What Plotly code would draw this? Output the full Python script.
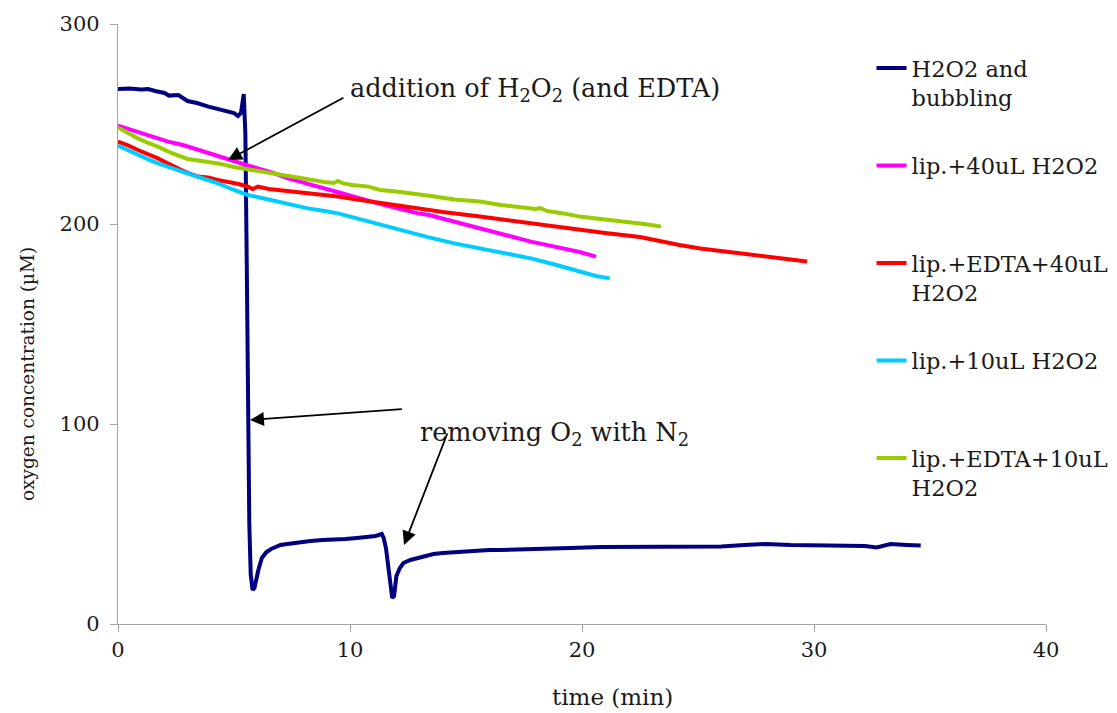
import plotly.graph_objects as go

FONT = "DejaVu Serif"

# ---- data ----
navy_x = [0, 0.5, 1.0, 1.3, 1.6, 2.0, 2.2, 2.6, 3.0, 3.4, 3.9, 4.3, 4.74, 5.0, 5.17, 5.3, 5.42,
          5.49, 5.55, 5.6, 5.66, 5.72, 5.8, 5.88, 5.95, 6.05, 6.2, 6.4, 6.6, 7.0, 7.3, 7.8, 8.3,
          8.8, 9.3, 9.8, 10.3, 10.7, 11.1, 11.37, 11.45, 11.55, 11.65, 11.75, 11.82, 11.9, 12.0,
          12.15, 12.3, 12.6, 12.9, 13.3, 13.6, 14.0, 14.5, 15.0, 15.5, 16.0, 16.5, 17.5, 18.5,
          19.5, 20.8, 22.0, 23.0, 24.0, 25.1, 26.0, 27.0, 27.9, 29.0, 30.0, 30.8, 31.5, 32.2,
          32.7, 33.3, 34.0, 34.6]
navy_y = [267.5, 267.8, 267.3, 267.5, 266.5, 265.5, 264.2, 264.5, 261.5, 260.5, 258.7, 257.5,
          256.5, 255.5, 254.0, 255.5, 265.0,
          245, 180, 110, 50, 25, 17, 18, 22, 27, 33, 36, 37.5, 39.5, 40, 41, 41.5,
          42, 42, 42.5, 43, 43.5, 44, 45, 43, 38, 30, 20, 13, 14, 24,
          28, 30.5, 32, 33, 34, 35, 35.5, 36, 36.2, 36.5, 37, 37, 37.5, 37.5,
          38, 38.5, 38.5, 38.5, 39, 39, 38.8, 39.5, 40, 39.5, 39.5, 39.2, 39.5, 39,
          38.3, 40, 39.5, 39.2]

mag_x = [0, 0.86, 1.5, 2.16, 2.8, 3.45, 4.1, 4.74, 5.4, 6.03, 6.7, 7.33, 8.0, 8.62, 9.3, 9.91,
         10.5, 11.2, 12.0, 12.93, 13.4, 14.5, 15.6, 16.7, 17.8, 18.9, 19.9, 20.6]
mag_y = [249.2, 246.2, 244, 241.2, 239.5, 237, 234.5, 232.3, 230, 227.8, 225.5, 222.8, 220.8,
         218.7, 216.5, 214.5, 212.5, 210.3, 208, 205.3, 204.5, 201, 197.8, 194.5, 191.2, 188.5,
         186, 183.7]

red_x = [0, 0.4, 0.86, 1.3, 1.72, 2.2, 2.59, 3.0, 3.45, 3.88, 4.3, 4.74, 5.2, 5.6, 5.8, 6.03,
         6.5, 6.9, 7.5, 8.19, 8.8, 9.48, 10.3, 11.2, 12.0, 12.93, 14.0, 15.6, 17.0, 18.5, 19.9,
         21.0, 22.5, 23.5, 24.2, 25.1, 26.0, 27.2, 28.0, 29.0, 29.7]
red_y = [241.2, 239.5, 237, 235, 232.8, 230, 227.8, 225.5, 223.7, 223.2, 222, 221.2, 220,
         218.7, 217.5, 218.7, 217.5, 217, 216.3, 215.3, 214.5, 213.7, 212.3, 210.7, 209.5,
         207.8, 206, 203.7, 201.5, 199.5, 197.3, 195.5, 193.5, 191, 189.5, 187.8, 186.5, 184.5,
         183.5, 182, 181.2]

cyan_x = [0, 0.4, 0.86, 1.3, 1.72, 2.3, 3.0, 3.6, 4.31, 5.0, 5.6, 6.2, 6.9, 7.5, 8.19, 8.9,
          9.48, 10.3, 11.2, 12.0, 12.93, 13.4, 14.5, 15.6, 16.7, 17.8, 18.9, 19.9, 20.6, 21.2]
cyan_y = [239.2, 237, 234.5, 232.3, 230.3, 227.8, 225.3, 223, 220.3, 217, 214.5, 213, 211.2,
          209.5, 207.8, 206.5, 205.3, 202.8, 200.0, 197.5, 195, 193.3, 190.3, 187.8, 185.3,
          182.8, 179.5, 176.2, 174, 172.8]

green_x = [0, 0.4, 0.86, 1.3, 1.72, 2.3, 3.0, 3.6, 4.31, 5.0, 5.6, 6.2, 6.9, 7.5, 8.19, 8.9,
           9.3, 9.48, 9.7, 10.1, 10.8, 11.3, 12.0, 12.93, 13.5, 14.5, 15.6, 16.5, 17.5, 18.0,
           18.2, 18.5, 19.2, 19.9, 20.8, 21.7, 22.5, 23.0, 23.4]
green_y = [248.2, 245.5, 242.8, 240.5, 238.7, 235.5, 232.5, 231.5, 230.3, 228.5, 227.3, 226.3,
           224.8, 223.5, 222.3, 221, 220.5, 221.5, 220.3, 219.5, 218.7, 217, 216.2, 215, 214,
           212.3, 211.2, 209.5, 208.5, 207.5, 208, 206.5, 205.3, 203.7, 202.5, 201.5, 200.3,
           199.5, 198.7]

series_names = ["H2O2 and<br>bubbling", "lip.+40uL H2O2<br> ", "lip.+EDTA+40uL<br>H2O2",
                "lip.+10uL H2O2<br> ", "lip.+EDTA+10uL<br>H2O2"]
series_colors = ["#000080", "#FF00FF", "#FF0000", "#00CCFF", "#99CC00"]

x_ticks = [0, 10, 20, 30, 40]
y_ticks = [0, 100, 200, 300]

fig = go.Figure()
for i, (xs, ys) in enumerate([(navy_x, navy_y), (mag_x, mag_y), (red_x, red_y),
                               (cyan_x, cyan_y), (green_x, green_y)]):
    fig.add_trace(go.Scatter(x=xs, y=ys, mode="lines", name=series_names[i],
                             legendgroup=f"g{i}",
                             line=dict(color=series_colors[i], width=4, shape="linear")))

TXT = "#1a1a1a"
axis_common = dict(showline=True, linecolor="#a6a6a6", linewidth=1.3, ticks="outside",
                   ticklen=7, tickcolor="#a6a6a6", tickwidth=1.3, showgrid=False,
                   zeroline=False, automargin=False,
                   tickfont=dict(family=FONT, size=21, color=TXT))

# the page keeps an 8px body margin; fixed margins (no auto-expansion)
fig.update_layout(
    width=1109, height=705,
    margin=dict(l=110, r=71, t=16, b=89, autoexpand=False),
    plot_bgcolor="white", paper_bgcolor="white",
    font=dict(family=FONT, color=TXT),
    xaxis=dict(range=[0, 40], tickvals=x_ticks, **axis_common),
    yaxis=dict(range=[0, 300], tickvals=y_ticks, ticklabelstandoff=6, **axis_common),
    legend=dict(x=0.812, y=0.962, xanchor="left", yanchor="top", valign="top",
                bgcolor="rgba(0,0,0,0)", tracegroupgap=36,
                font=dict(family=FONT, size=22.5, color=TXT)),
    showlegend=True,
)

ann_font = dict(family=FONT, size=25.5, color=TXT)
# axis titles
fig.add_annotation(text="time (min)", xref="x", yref="paper", x=21.3, y=-0.122,
                   xanchor="center", yanchor="middle", showarrow=False,
                   font=dict(family=FONT, size=23, color=TXT))
fig.add_annotation(text="oxygen concentration (µM)", xref="paper", yref="y", x=-0.098, y=125,
                   xanchor="center", yanchor="middle", textangle=-90, showarrow=False,
                   font=dict(family=FONT, size=18.5, color=TXT))
# annotation texts
fig.add_annotation(text="addition of H<sub>2</sub>O<sub>2</sub> (and EDTA)", x=9.9, y=267.5,
                   xanchor="left", yanchor="middle", showarrow=False, font=ann_font)
fig.add_annotation(text="removing O<sub>2</sub> with N<sub>2</sub>", x=12.93, y=95.5,
                   xanchor="left", yanchor="middle", showarrow=False, font=ann_font)
# arrows
arrows = [((9.78, 263.5), (4.74, 232)), ((12.3, 107.5), (5.69, 102)),
          ((14.22, 96), (12.33, 39.5))]
for (tx, ty), (hx, hy) in arrows:
    fig.add_annotation(text="", x=hx, y=hy, ax=tx, ay=ty, axref="x", ayref="y",
                       showarrow=True, arrowhead=2, arrowsize=1.55, arrowwidth=1.8,
                       arrowcolor="black")

fig.write_html("out.html")
